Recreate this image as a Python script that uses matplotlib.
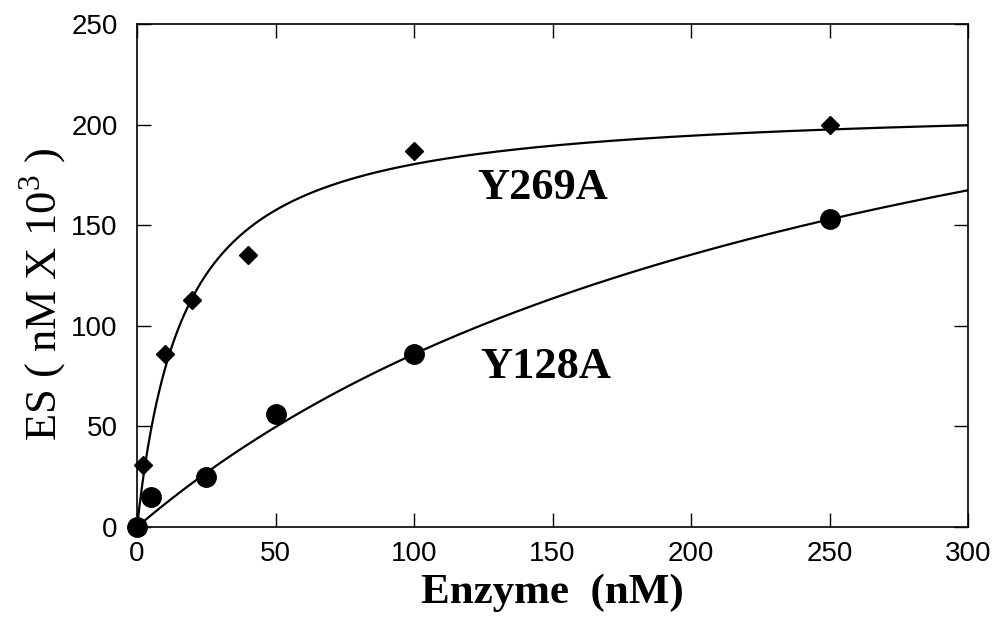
import numpy as np
import matplotlib
matplotlib.use("Agg")
import matplotlib.pyplot as plt

plt.rcParams['mathtext.fontset'] = 'custom'
plt.rcParams['mathtext.rm'] = 'Liberation Serif'

# measured points
y269a_x = [0, 2, 10, 20, 40, 100, 250]
y269a_y = [0, 31, 86, 113, 135, 187, 200]
y128a_x = [0, 5, 25, 50, 100, 250]
y128a_y = [0, 15, 25, 56, 86, 153]

# hyperbolic fit parameters
y269a_vmax, y269a_k = 211, 17
y128a_vmax, y128a_k = 318, 270

xticks = [0, 50, 100, 150, 200, 250, 300]
yticks = [0, 50, 100, 150, 200, 250]

fig = plt.figure(figsize=(9.98, 6.17), dpi=100)
ax = fig.add_axes([0.1373, 0.1459, 0.8327, 0.8152])

xf = np.linspace(0, 300, 600)
ax.plot(xf, y269a_vmax * xf / (y269a_k + xf), color='black', lw=1.6)
ax.plot(xf, y128a_vmax * xf / (y128a_k + xf), color='black', lw=1.6)

ax.plot(y269a_x, y269a_y, 'D', color='black', markersize=9.5, clip_on=False)
ax.plot(y128a_x, y128a_y, 'o', color='black', markersize=14, clip_on=False)

ax.set_xlim(0, 300)
ax.set_ylim(0, 250)
ax.set_xticks(xticks)
ax.set_yticks(yticks)
ax.tick_params(direction='in', length=10, width=1, top=True, right=True,
               labelsize=20)
ax.tick_params(axis='y', pad=14)
ax.tick_params(axis='x', pad=10)
for lab in ax.get_xticklabels() + ax.get_yticklabels():
    lab.set_family('Liberation Sans')
for s in ax.spines.values():
    s.set_linewidth(1.2)

ax.set_xlabel("Enzyme  (nM)", family='Liberation Serif', weight='bold',
              fontsize=31)
ax.xaxis.label.set_va('baseline')
ax.xaxis.set_label_coords(0.5, -0.151)

ax.set_ylabel(r"ES ( nM X 10$^{\mathregular{3}}$ )", family='Liberation Serif',
              fontsize=32)
ax.yaxis.set_label_coords(-0.082, 0.463)

ax.text(123, 163, "Y269A", family='Liberation Serif', weight='bold',
        fontsize=32, va='baseline')
ax.text(124, 74, "Y128A", family='Liberation Serif', weight='bold',
        fontsize=32, va='baseline')

fig.savefig('out.png', dpi=100)
